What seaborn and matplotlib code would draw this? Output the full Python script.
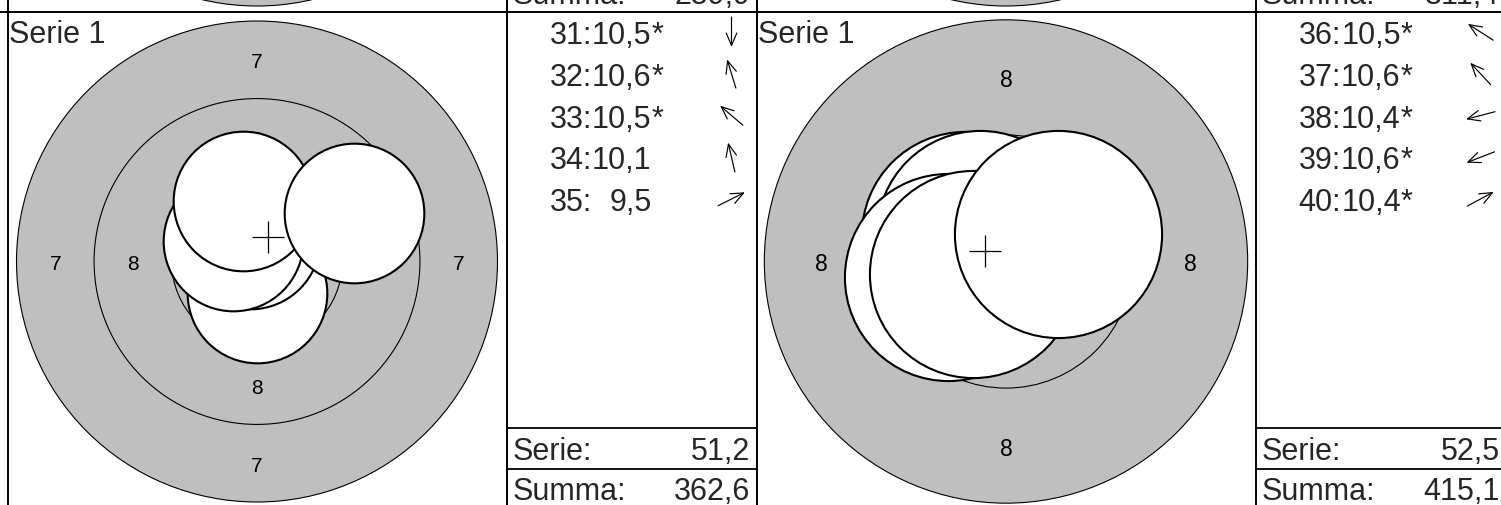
import numpy as np
import pandas as pd
import matplotlib
matplotlib.use("Agg")
import matplotlib.pyplot as plt
import seaborn as sns
from matplotlib.patches import Circle

# ------------------------------------------------------------------ data
series_title = "Serie 1"

shot_numbers_left = [31, 32, 33, 34, 35]
shot_scores_left = [10.5, 10.6, 10.5, 10.1, 9.5]
shot_inner_left = [True, True, True, False, False]
shot_x_left = [0.00, -0.22, -0.76, -0.45, 3.13]     # mm from centre
shot_y_left = [-1.00, 0.72, 0.65, 1.95, 1.57]
serie_left = "51,2"
summa_left = "362,6"

shot_numbers_right = [36, 37, 38, 39, 40]
shot_scores_right = [10.5, 10.6, 10.4, 10.6, 10.4]
shot_inner_right = [True, True, True, True, True]
shot_x_right = [-0.90, -0.56, -1.26, -0.72, 1.12]
shot_y_right = [0.58, 0.60, -0.33, -0.28, 0.60]
serie_right = "52,5"
summa_right = "415,1"

outer_ring = [7, 8]              # outermost ring drawn on each target
view_halfwidth_mm = [8.04, 5.42]  # zoom of each target
ring_label_pt = [15.0, 16.5]

prev_summa = ["259,9", "311,4"]   # cut-off row above
prev_outer_ring = [7, 7]
prev_view_halfwidth_mm = [8.04, 8.04]

# ------------------------------------------------------------------ style
sns.set_theme(style="white")
plt.rcParams["font.family"] = ["Liberation Sans", "DejaVu Sans"]

W, H = 1501, 506
fig = plt.figure(figsize=(W / 100, H / 100), dpi=100)
fig.patch.set_facecolor("white")
renderer = fig.canvas.get_renderer()

GREY = "#bfbfbf"
PANEL_X = [7.5, 756.5]
TOP = 13
PITCH = 496
TW = 499.0   # target width px
TABW = 249.5
TXT = 22
PELLET_R = 2.25


def add_ax(x0, y0, w, h):
    return fig.add_axes([x0 / W, 1 - (y0 + h) / H, w / W, h / H])


def ring_r(n):
    return 0.25 + (10 - n) * 2.5


def fmt(v):
    return f"{v:.1f}".replace(".", ",")


def text_w(s, size):
    t = fig.text(0, 0, s, fontsize=size)
    w = t.get_window_extent(renderer).width
    t.remove()
    return w


def draw_target(ax, outer, hw, label_pt, xs=None, ys=None, labels=True):
    bottom = -(PITCH - TW / 2) / (TW / 2) * hw
    ax.set_xlim(-hw, hw)
    ax.set_ylim(bottom, hw)
    ax.axis("off")
    ax.add_patch(Circle((0, 0), ring_r(outer), facecolor=GREY,
                        edgecolor="black", lw=0.8, zorder=1))
    for n in range(outer + 1, 11):
        ax.add_patch(Circle((0, 0), ring_r(n), fill=False,
                            edgecolor="black", lw=0.8, zorder=2))
    if labels:
        for n in range(outer, 9):
            rad = (ring_r(n) + ring_r(n + 1)) / 2
            for (lx, ly) in [(0, rad), (0, -rad), (rad, 0), (-rad, 0)]:
                ax.text(lx, ly, str(n), ha="center", va="center_baseline",
                        fontsize=label_pt, color="black", zorder=3)
    if xs is not None:
        px_per_mm = TW / (2 * hw)
        diam_pt = 2 * PELLET_R * px_per_mm * 72 / 100
        df = pd.DataFrame({"x": xs, "y": ys})
        sns.scatterplot(data=df, x="x", y="y", s=diam_pt ** 2,
                        color="white", edgecolor="black", linewidth=1.5,
                        ax=ax, zorder=4, legend=False)
        sns.scatterplot(x=[np.mean(xs)], y=[np.mean(ys)], marker="+",
                        s=22.5 ** 2, color="black", linewidth=0.9,
                        ax=ax, zorder=5, legend=False)
    ax.set_xlabel("")
    ax.set_ylabel("")


def draw_table(ax, nums, scores, inner, xs, ys, serie, summa):
    ax.set_xlim(0, TABW)
    ax.set_ylim(PITCH, 0)
    ax.axis("off")
    if nums is not None:
        for i, (n, s, st, x, y) in enumerate(zip(nums, scores, inner, xs, ys)):
            base = 31 + i * 41.75
            ax.text(43, base, f"{n}:", ha="left", va="baseline", fontsize=TXT)
            xend = 43 + text_w(f"{n}:10,0", TXT)
            ax.text(xend, base, fmt(s), ha="right", va="baseline", fontsize=TXT)
            if st:
                ax.text(xend, base, "*", ha="left", va="baseline", fontsize=TXT)
            ang = np.arctan2(y, x)
            cx, cy = 225, base - 11
            dx, dy = 15 * np.cos(ang), -15 * np.sin(ang)
            ax.annotate("", xy=(cx + dx, cy + dy), xytext=(cx - dx, cy - dy),
                        arrowprops=dict(arrowstyle="->,head_length=0.75,head_width=0.32",
                                        lw=0.85, color="black",
                                        mutation_scale=12,
                                        shrinkA=0, shrinkB=0))
    if serie is not None:
        ax.text(6, 447, "Serie:", ha="left", va="baseline", fontsize=TXT)
        ax.text(244, 447, serie, ha="right", va="baseline", fontsize=TXT)
    ax.text(6, 487, "Summa:", ha="left", va="baseline", fontsize=TXT)
    ax.text(244, 487, summa, ha="right", va="baseline", fontsize=TXT)
    ax.plot([0, TABW], [416, 416], color="black", lw=1.3)
    ax.plot([0, TABW], [457, 457], color="black", lw=1.3)


# ---- row above (cut off by the top edge)
for k in range(2):
    ax_t = add_ax(PANEL_X[k], TOP - PITCH, TW, PITCH)
    draw_target(ax_t, prev_outer_ring[k], prev_view_halfwidth_mm[k],
                ring_label_pt[0], labels=False)
    ax_b = add_ax(PANEL_X[k] + TW, TOP - PITCH, TABW, PITCH)
    draw_table(ax_b, None, None, None, None, None, None, prev_summa[k])

# ---- visible row
shots = [
    (shot_numbers_left, shot_scores_left, shot_inner_left, shot_x_left, shot_y_left, serie_left, summa_left),
    (shot_numbers_right, shot_scores_right, shot_inner_right, shot_x_right, shot_y_right, serie_right, summa_right),
]
for k in range(2):
    nums, scores, inner, xs, ys, serie, summa = shots[k]
    ax_t = add_ax(PANEL_X[k], TOP, TW, PITCH)
    draw_target(ax_t, outer_ring[k], view_halfwidth_mm[k], ring_label_pt[k], xs, ys)
    mm = view_halfwidth_mm[k] / (TW / 2)
    ax_t.text(-view_halfwidth_mm[k] + 2 * mm, view_halfwidth_mm[k] - 30 * mm,
              series_title, ha="left", va="baseline", fontsize=TXT, zorder=6)
    ax_b = add_ax(PANEL_X[k] + TW, TOP, TABW, PITCH)
    draw_table(ax_b, nums, scores, inner, xs, ys, serie, summa)

# ---- grid lines
ov = fig.add_axes([0, 0, 1, 1], zorder=10)
ov.set_xlim(0, W)
ov.set_ylim(H, 0)
ov.axis("off")
ov.patch.set_alpha(0)
ov.plot([0, W], [TOP, TOP], color="black", lw=1.4)
for k in range(2):
    ov.plot([PANEL_X[k], PANEL_X[k]], [0, H], color="black", lw=1.4)
    ov.plot([PANEL_X[k] + TW, PANEL_X[k] + TW], [0, H], color="black", lw=1.4)

fig.savefig("out.png", dpi=100)
